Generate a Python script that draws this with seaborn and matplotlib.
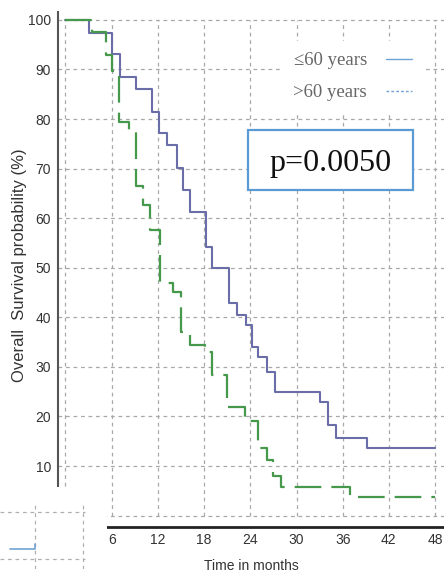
import numpy as np
import pandas as pd
import seaborn as sns
import matplotlib.pyplot as plt
from matplotlib.lines import Line2D
from matplotlib.patches import Rectangle

# ---- data ----
young_time = [0, 3.0, 6.1, 7.1, 9.1, 11.3, 12.2, 13.2, 14.5, 15.2, 16.2, 18.3, 19.0,
              21.2, 22.3, 23.4, 24.2, 25.0, 26.2, 27.2, 33.0, 34.1, 35.1, 39.1, 48]
young_surv = [100, 97.4, 93.1, 88.5, 86.1, 81.5, 77.2, 74.8, 70.2, 65.7, 61.3, 54.2, 50.0,
              42.9, 40.5, 38.5, 34.0, 31.9, 29.0, 25.0, 23.0, 18.3, 15.7, 13.7, 13.7]

old_time = [0, 3.5, 5.2, 6.1, 6.9, 8.2, 9.1, 10.1, 11.0, 12.3, 14.0, 15.0, 16.2, 18.1,
            19.0, 21.0, 23.3, 25.0, 26.2, 26.9, 28.0, 36.9, 48]
old_surv = [100, 97.6, 93.0, 89.7, 79.4, 77.4, 66.5, 62.7, 57.7, 47.0, 45.2, 37.1, 34.5, 33.0,
            28.4, 22.0, 19.0, 13.7, 11.3, 7.9, 5.8, 3.8, 3.8]

group_labels = ["\u226460 years", ">60 years"]
x_ticks = [0, 6, 12, 18, 24, 30, 36, 42, 48]
y_ticks = [0, 10, 20, 30, 40, 50, 60, 70, 80, 90, 100]
p_text = "p=0.0050"

df = pd.concat([
    pd.DataFrame({"time": young_time, "surv": young_surv, "group": group_labels[0]}),
    pd.DataFrame({"time": old_time, "surv": old_surv, "group": group_labels[1]}),
], ignore_index=True)

# ---- style ----
sns.set_style("white")
plt.rcParams["font.family"] = ["Liberation Sans Narrow", "Liberation Sans", "DejaVu Sans"]

W, H = 444, 579
fig = plt.figure(figsize=(W / 100, H / 100), dpi=100)
ax = fig.add_axes([58 / W, 52 / H, 386 / W, 515 / H])

ax.set_xlim(-0.97, 49.15)
ax.set_ylim(-2.3, 101.6)

# grid (dashed grey)
grid_kw = dict(color="#a8a8a8", lw=0.9, ls=(0, (3, 3)), zorder=0)
ax.vlines(x_ticks, 0, 100, **grid_kw)
ax.hlines(y_ticks, -0.97, 49.15, **grid_kw)

palette = {group_labels[0]: "#6a6ea8", group_labels[1]: "#46984a"}
sns.lineplot(data=df[df.group == group_labels[0]], x="time", y="surv",
             color=palette[group_labels[0]], drawstyle="steps-post", lw=1.5,
             estimator=None, legend=False, ax=ax, zorder=3)
sns.lineplot(data=df[df.group == group_labels[1]], x="time", y="surv",
             color=palette[group_labels[1]], drawstyle="steps-post", lw=1.6,
             dashes=False, estimator=None, legend=False, ax=ax, zorder=4)
ax.lines[-1].set_dashes((12, 4.5))

# axes appearance
for s in ["top", "right"]:
    ax.spines[s].set_visible(False)
ax.spines["left"].set_color("#555555")
ax.spines["left"].set_linewidth(1.5)
ax.spines["left"].set_bounds(5.8, 101.6)
ax.spines["bottom"].set_color("#222222")
ax.spines["bottom"].set_linewidth(2)

ax.set_xticks(x_ticks)
ax.set_yticks(y_ticks)
ax.set_xticklabels([str(t) for t in x_ticks])
ax.set_yticklabels([str(t) for t in y_ticks])
ax.tick_params(axis="both", direction="in", length=4, width=1, colors="#444444",
               labelsize=10, labelcolor="#333333")
ax.tick_params(axis="y", pad=5)
ax.tick_params(axis="x", pad=4)

ax.set_xlabel("Time in months", fontsize=10, color="#333333", labelpad=9)
ax.set_ylabel("Overall  Survival probability (%)", fontsize=12, color="#333333")
ax.yaxis.set_label_coords(-0.08, 0.509)

# legend
handles = [Line2D([], [], color="#6fa3d2", lw=1.0, ls="-"),
           Line2D([], [], color="#6fa3d2", lw=1.0, ls=(0, (2, 1.5)))]
leg = ax.legend(handles, group_labels, loc="upper right", bbox_to_anchor=(0.97, 0.962),
                markerfirst=False, frameon=True, fancybox=False, framealpha=1,
                edgecolor="white", handlelength=1.4, handletextpad=1.0,
                labelspacing=0.8, borderpad=0.6,
                prop={"family": ["Liberation Serif", "DejaVu Serif"], "size": 13.5})
for t in leg.get_texts():
    t.set_color("#666666")

# p-value box
ax.add_patch(Rectangle((0.492, 0.654), 0.4275, 0.1165, transform=ax.transAxes,
                       facecolor="white", edgecolor="#5b9bd5", lw=1.6, zorder=6))
ax.text(0.706, 0.705, p_text, transform=ax.transAxes, ha="center", va="center",
        fontsize=23, family=["Liberation Serif", "DejaVu Serif"], color="#111111", zorder=7)

# white patch over lower-left corner (as in the source image)
fig.add_artist(Rectangle((0, 0), 107 / W, (H - 487) / H, transform=fig.transFigure,
                         facecolor="white", edgecolor="none", zorder=10))

# fragment of another figure in the lower-left corner
frag = fig.add_axes([0, 10 / H, 90 / W, 64 / H], zorder=11)
frag.set_xlim(0, 90)
frag.set_ylim(0, 64)
frag.axis("off")
fk = dict(color="#b0b0b0", lw=0.9, ls=(0, (3, 3)))
frag.hlines([57, 10], 0, 85, **fk)
frag.vlines([35, 83], 0, 64, **fk)
frag.plot([10, 35, 35], [20, 20, 25], color="#6fa3d2", lw=1.2)

fig.savefig("out.png", dpi=100)
